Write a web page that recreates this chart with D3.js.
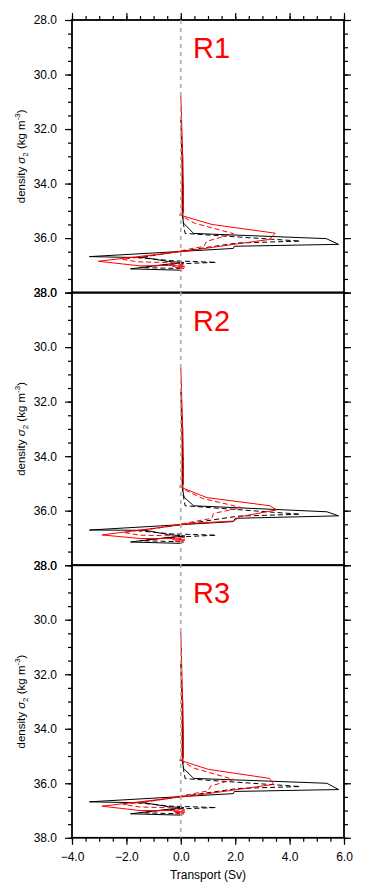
<!DOCTYPE html>
<html>
<head>
<meta charset="utf-8">
<script src="https://cdn.jsdelivr.net/npm/d3@7"></script>
<style>
  body { margin: 0; background: #fff; }
  svg { display: block; font-family: "Liberation Sans", Arial, sans-serif; }
</style>
</head>
<body>
<script>
// axis ticks and panel names
const xTicks = [-4, -2, 0, 2, 4, 6];
const yTicks = [28, 30, 32, 34, 36, 38];
const panelNames = ["R1", "R2", "R3"];

// [transport (Sv), density sigma2] pairs
const r1BlackSolid = [[0.02,32.3],[0.07,33.0],[0.06,34.6],[0.08,35.3],[0.1,35.45],[0.47,35.83],[5.35,36.02],[5.8,36.23],[1.97,36.3],[1.93,36.38],[-3.36,36.68],[-1.3,36.72],[-0.45,36.86],[0.12,36.9],[-0.6,36.97],[-1.85,37.13],[0.05,37.18]];
const r1BlackDash = [[0.0,31.6],[0.05,33.5],[0.05,35.1],[0.1,35.5],[0.16,35.83],[4.39,36.11],[2.1,36.18],[0.9,36.35],[-1.55,36.72],[-0.35,36.83],[1.3,36.89],[-0.25,36.95],[-1.5,37.08],[0.05,37.12]];
const r1RedSolid = [[0.0,30.75],[0.04,32.0],[0.1,34.2],[0.1,35.08],[-0.05,35.15],[1.14,35.5],[3.47,35.82],[3.26,36.05],[1.94,36.23],[0.47,36.44],[-3.03,36.85],[-1.5,37.02],[-0.3,37.0],[0.15,37.05],[-0.2,37.08],[0.12,37.12]];
const r1RedDash = [[0.02,31.2],[0.05,34.0],[0.05,35.2],[0.5,35.45],[1.94,35.84],[0.95,36.12],[0.85,36.3],[-0.6,36.58],[-2.15,36.78],[-1.6,36.87],[-0.4,36.9],[0.15,36.98],[-0.3,37.04],[0.1,37.1]];

const r2BlackSolid = [[0.02,32.3],[0.07,33.0],[0.06,34.6],[0.08,35.3],[0.12,35.5],[0.47,35.82],[5.37,36.04],[5.8,36.19],[2.0,36.28],[1.94,36.4],[-3.36,36.71],[-1.3,36.72],[-0.45,36.88],[0.15,36.93],[-0.6,37.0],[-1.85,37.15],[0.05,37.2]];
const r2BlackDash = [[0.0,31.6],[0.05,33.5],[0.05,35.1],[0.1,35.5],[0.16,35.82],[4.39,36.13],[2.1,36.2],[0.9,36.38],[-1.55,36.74],[-0.35,36.85],[1.3,36.9],[-0.25,36.97],[-1.5,37.1],[0.05,37.14]];
const r2RedSolid = [[0.0,30.75],[0.04,32.0],[0.1,34.2],[0.1,35.05],[-0.05,35.12],[0.96,35.52],[3.28,35.82],[3.53,35.97],[2.18,36.22],[1.94,36.38],[0.47,36.46],[-2.9,36.89],[-1.5,37.02],[-0.3,37.02],[0.15,37.08],[-0.2,37.12],[0.12,37.16]];
const r2RedDash = [[0.02,31.2],[0.05,34.0],[0.05,35.18],[0.16,35.24],[0.8,35.55],[2.24,35.89],[1.2,36.1],[1.14,36.28],[-0.6,36.6],[-2.1,36.8],[-1.5,36.9],[-0.4,36.92],[0.15,37.0],[-0.3,37.06],[0.1,37.12]];

const r3BlackSolid = [[0.02,32.3],[0.07,33.0],[0.06,34.6],[0.08,35.3],[0.1,35.45],[0.47,35.82],[5.37,36.0],[5.8,36.23],[1.97,36.3],[1.93,36.38],[-3.36,36.68],[-1.3,36.72],[-0.45,36.86],[0.12,36.9],[-0.6,36.97],[-1.85,37.12],[0.05,37.17]];
const r3BlackDash = [[0.0,31.6],[0.05,33.5],[0.05,35.1],[0.1,35.5],[0.16,35.83],[4.39,36.12],[2.1,36.19],[0.9,36.36],[-1.55,36.72],[-0.35,36.84],[1.3,36.89],[-0.25,36.95],[-1.5,37.08],[0.05,37.12]];
const r3RedSolid = [[0.0,30.45],[0.04,32.0],[0.1,34.2],[0.1,35.08],[-0.05,35.15],[1.02,35.49],[3.26,35.82],[3.41,36.04],[1.94,36.25],[0.47,36.45],[-2.9,36.84],[-1.5,37.0],[-0.3,37.0],[0.15,37.06],[-0.2,37.09],[0.12,37.13]];
const r3RedDash = [[0.02,31.0],[0.05,34.0],[0.05,35.2],[0.5,35.45],[1.94,35.86],[1.1,36.1],[1.0,36.28],[-0.6,36.58],[-2.1,36.78],[-1.5,36.87],[-0.4,36.9],[0.15,36.98],[-0.3,37.04],[0.1,37.1]];

const panelSeries = [
  [r1BlackSolid, r1BlackDash, r1RedSolid, r1RedDash],
  [r2BlackSolid, r2BlackDash, r2RedSolid, r2RedDash],
  [r3BlackSolid, r3BlackDash, r3RedSolid, r3RedDash]
];
const seriesStyle = [
  {color: "#000", dash: null},
  {color: "#000", dash: "5,3"},
  {color: "#ff0000", dash: null},
  {color: "#ff0000", dash: "5,3"}
];

const W = 365, H = 895;
const plotLeft = 72, plotRight = 344, plotTop = 20, panelH = 272.6;

const svg = d3.select("body").append("svg")
    .attr("width", W)
    .attr("height", H);

const x = d3.scaleLinear().domain([-4, 6]).range([plotLeft, plotRight]);
const minorX = d3.range(-4, 6.01, 0.5);
const minorY = d3.range(28, 38.01, 0.5);

panelNames.forEach((name, i) => {
    const y0 = plotTop + i * panelH;
    const y = d3.scaleLinear().domain([28, 38]).range([y0, y0 + panelH]);
    const g = svg.append("g");

    // left axis, outward ticks
    const leftAxis = d3.axisLeft(y).tickValues(yTicks).tickSize(7).tickPadding(8)
        .tickFormat(d3.format(".1f"));
    g.append("g").attr("transform", `translate(${plotLeft},0)`).call(leftAxis);
    g.append("g").attr("transform", `translate(${plotLeft},0)`)
        .call(d3.axisLeft(y).tickValues(minorY).tickSize(4).tickFormat(""));

    // right axis
    g.append("g").attr("transform", `translate(${plotRight},0)`)
        .call(d3.axisRight(y).tickValues(yTicks).tickSize(7).tickFormat(""));
    g.append("g").attr("transform", `translate(${plotRight},0)`)
        .call(d3.axisRight(y).tickValues(minorY).tickSize(4).tickFormat(""));

    if (i === 0) {
        g.append("g").attr("transform", `translate(0,${y0})`)
            .call(d3.axisTop(x).tickValues(xTicks).tickSize(7).tickFormat(""));
        g.append("g").attr("transform", `translate(0,${y0})`)
            .call(d3.axisTop(x).tickValues(minorX).tickSize(4).tickFormat(""));
    }
    if (i === panelNames.length - 1) {
        g.append("g").attr("transform", `translate(0,${y0 + panelH})`)
            .call(d3.axisBottom(x).tickValues(xTicks).tickSize(7).tickPadding(8)
                .tickFormat(d3.format(".1f")));
        g.append("g").attr("transform", `translate(0,${y0 + panelH})`)
            .call(d3.axisBottom(x).tickValues(minorX).tickSize(4).tickFormat(""));
    }

    // frame
    g.append("rect")
        .attr("x", plotLeft).attr("y", y0)
        .attr("width", plotRight - plotLeft).attr("height", panelH)
        .attr("fill", "none").attr("stroke", "#000").attr("stroke-width", 1.8);

    // y label
    const lab = g.append("text")
        .attr("transform", `translate(25,${y0 + panelH / 2}) rotate(-90)`)
        .attr("text-anchor", "middle")
        .attr("font-size", 11.5)
        .attr("fill", "#000");
    lab.append("tspan").text("density ");
    lab.append("tspan").attr("font-style", "italic").text("σ");
    lab.append("tspan").attr("font-size", 8).attr("dy", 3).text("2");
    lab.append("tspan").attr("dy", -3).text(" (kg m");
    lab.append("tspan").attr("font-size", 8).attr("dy", -5).text("-3");
    lab.append("tspan").attr("dy", 5).text(")");

    // series
    const line = d3.line().x(d => x(d[0])).y(d => y(d[1]));
    panelSeries[i].forEach((s, k) => {
        g.append("path")
            .datum(s)
            .attr("d", line)
            .attr("fill", "none")
            .attr("stroke", seriesStyle[k].color)
            .attr("stroke-width", 1)
            .attr("stroke-dasharray", seriesStyle[k].dash);
    });

    // panel name
    g.append("text")
        .attr("x", x(0.45))
        .attr("y", y0 + 38)
        .attr("font-size", 29)
        .attr("fill", "#ff0000")
        .text(name);
});

// style axes
svg.selectAll(".domain").remove();
svg.selectAll(".tick line").attr("stroke", "#000").attr("stroke-width", 1.2);
svg.selectAll(".tick text").attr("font-size", 12).attr("fill", "#000")
    .attr("font-family", "Liberation Sans, Arial, sans-serif");

// zero line across all panels
svg.append("line")
    .attr("x1", x(0)).attr("x2", x(0))
    .attr("y1", plotTop).attr("y2", plotTop + 3 * panelH)
    .attr("stroke", "#aaa").attr("stroke-width", 1.5)
    .attr("stroke-dasharray", "4,4");

// x axis title
svg.append("text")
    .attr("x", (plotLeft + plotRight) / 2)
    .attr("y", 879)
    .attr("text-anchor", "middle")
    .attr("font-size", 12)
    .text("Transport (Sv)");
</script>
</body>
</html>
